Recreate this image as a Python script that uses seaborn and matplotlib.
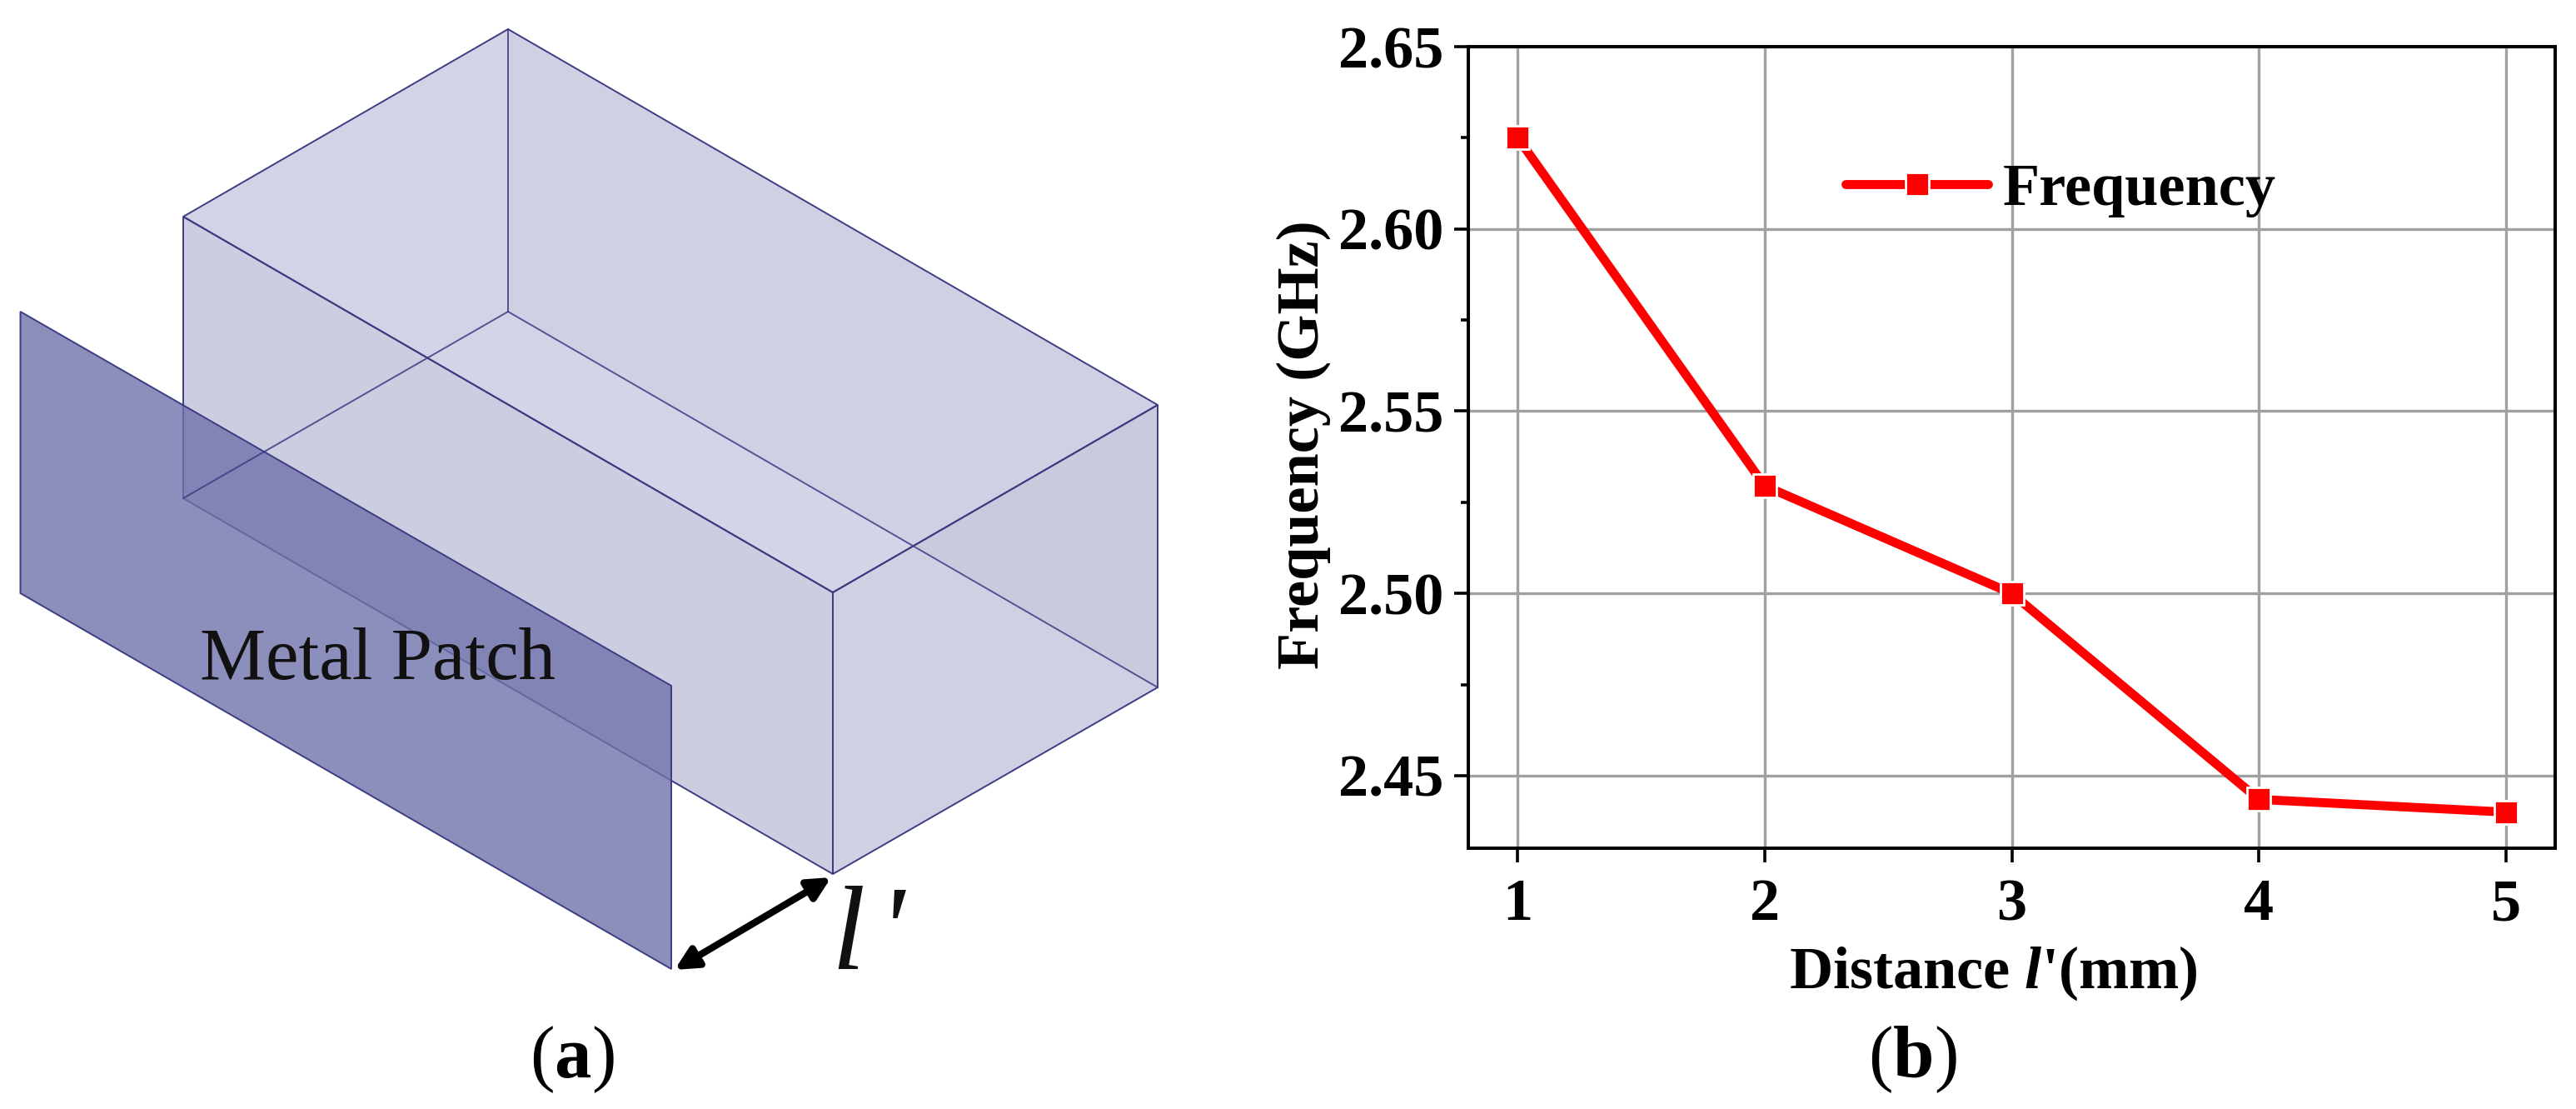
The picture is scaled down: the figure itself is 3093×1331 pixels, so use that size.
import matplotlib
matplotlib.use("Agg")
import matplotlib.pyplot as plt
from matplotlib.patches import Polygon
import pandas as pd
import seaborn as sns

distance = [1, 2, 3, 4, 5]
frequency = [2.625, 2.5295, 2.50, 2.4435, 2.44]
x_ticks = [1, 2, 3, 4, 5]
y_ticks = [2.45, 2.50, 2.55, 2.60, 2.65]
y_minor = [2.475, 2.525, 2.575, 2.625]

W, H = 3093, 1331
# schematic vertices (reference pixels)
top_back, top_left, top_right, top_front = (610, 35), (220, 260), (1390, 486), (1000, 711)
bot_back, bot_left, bot_right, bot_front = (610, 374), (220, 598), (1390, 825), (1000, 1049)
cross_x, cross_y = (513, 430), (1098, 654)
patch = [(24.5, 374), (806, 823), (806, 1163), (24.5, 712)]

sns.set_theme(style="white")
plt.rcParams['font.family'] = ['Liberation Serif', 'DejaVu Serif']
plt.rcParams.update({'text.color': 'black', 'axes.labelcolor': 'black',
                     'xtick.color': 'black', 'ytick.color': 'black',
                     'mathtext.fontset': 'custom', 'mathtext.rm': 'Liberation Serif',
                     'mathtext.it': 'Liberation Serif:italic', 'mathtext.bf': 'Liberation Serif:bold',
                     'mathtext.bfit': 'Liberation Serif:italic:bold'})

fig = plt.figure(figsize=(W/100, H/100), dpi=100, facecolor='white')

# schematic
bg = fig.add_axes([0, 0, 1, 1]); bg.set_xlim(0, W); bg.set_ylim(H, 0); bg.axis('off')
edge = '#3c3c82'
bg.add_patch(Polygon([top_back, top_right, bot_right, bot_front, bot_left, top_left], closed=True, fc='#cfd0e4', ec='none'))
bg.add_patch(Polygon([top_left, top_front, bot_front, bot_left], closed=True, fc='#cccde1', ec='none'))
bg.add_patch(Polygon([top_back, top_left, cross_x, bot_back], closed=True, fc='#d2d3e7', ec='none'))
bg.add_patch(Polygon([cross_x, bot_back, cross_y, top_front], closed=True, fc='#d3d4e8', ec='none'))
bg.add_patch(Polygon([cross_y, top_right, bot_right], closed=True, fc='#c9cadd', ec='none'))
for a, b in [(top_back, bot_back), (bot_back, bot_left), (bot_back, bot_right)]:
    bg.plot(*zip(a, b), color=edge, lw=1.4, alpha=.85)
for f in [[top_back, top_right, top_front, top_left],
          [top_left, top_front, bot_front, bot_left],
          [top_front, top_right, bot_right, bot_front]]:
    bg.add_patch(Polygon(f, closed=True, fc='none', ec=edge, lw=1.4))
bg.add_patch(Polygon(patch, closed=True, fc='#7072aa', alpha=.8, ec='none'))
bg.add_patch(Polygon(patch, closed=True, fc='none', ec=edge, lw=1.4))
bg.text(454, 794, 'Metal Patch', fontsize=64, color='#111111', ha='center', va='center')
bg.annotate('', xy=(810, 1164), xytext=(998, 1053),
            arrowprops=dict(arrowstyle='<|-|>', color='black', lw=6, mutation_scale=40, shrinkA=0, shrinkB=0))
bg.text(1018, 1163, 'l', fontsize=104, style='italic', ha='center', va='baseline', color='#111111')
bg.text(1070, 1163, "'", fontsize=104, style='italic', ha='center', va='baseline', color='#111111')
bg.text(687, 1272, r"($\mathbf{a}$)", fontsize=64, ha='center', va='center')
bg.text(2296, 1272, r"($\mathbf{b}$)", fontsize=64, ha='center', va='center')

# chart
left, right, top, bottom = 1763, 3068, 56, 1018
ax = fig.add_axes([left/W, 1-bottom/H, (right-left)/W, (bottom-top)/H])
ax.patch.set_alpha(0)
df = pd.DataFrame({'d': distance, 'f': frequency})
sns.lineplot(data=df, x='d', y='f', ax=ax, color='#ff0000', lw=7.8, marker='s', ms=20.7,
             mfc='#ff0000', mec='white', mew=2, label='Frequency', solid_capstyle='round', clip_on=False, zorder=5)
ax.set_xlim(0.8, 5.2); ax.set_ylim(2.4301, 2.65)
ax.set_xticks(x_ticks); ax.set_yticks(y_ticks); ax.set_yticks(y_minor, minor=True)
ax.set_yticklabels([f'{v:.2f}' for v in y_ticks])
ax.grid(True, which='major', color='#a0a0a0', lw=2.4)
ax.set_axisbelow(True)
for s in ax.spines.values():
    s.set_visible(True); s.set_color('black'); s.set_linewidth(2.9)
ax.tick_params(axis='both', which='major', direction='out', length=12, width=2.6, labelsize=52, bottom=True, left=True)
ax.tick_params(axis='x', which='major', pad=14)
ax.tick_params(axis='y', which='major', pad=9.5)
ax.tick_params(axis='y', which='minor', direction='out', length=6.5, width=2.6, left=True)
for t in ax.get_xticklabels()+ax.get_yticklabels():
    t.set_fontweight('bold')
ax.set_xlabel(r"Distance $\mathbfit{l}$'(mm)", fontsize=52, fontweight='bold', va='center')
ax.xaxis.set_label_coords((2393-left)/(right-left), 1-(1168-top)/(bottom-top))
ax.set_ylabel('Frequency (GHz)', fontsize=52, fontweight='bold', va='center')
ax.yaxis.set_label_coords((1565-left)/(right-left), 1-(534-top)/(bottom-top))
leg = ax.legend(loc='center left', bbox_to_anchor=((2216-left)/(right-left), 1-(228-top)/(bottom-top)),
                frameon=False, handlelength=171*0.72/52, handletextpad=0.24, borderaxespad=0, borderpad=0,
                prop={'family': 'Liberation Serif', 'weight': 'bold', 'size': 52})
fig.savefig('out.png', dpi=100)
